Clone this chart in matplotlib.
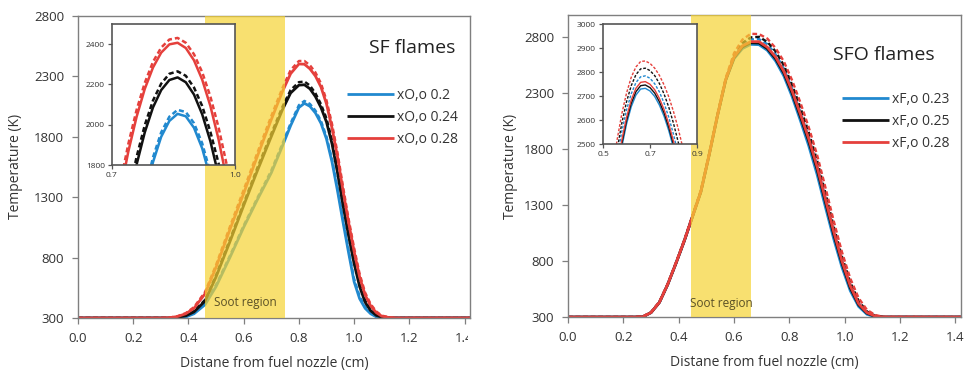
import matplotlib.pyplot as plt
from matplotlib.transforms import Bbox

plt.rcParams['font.family'] = ['Open Sans', 'DejaVu Sans']

# ---------------- SF flames (oxygen side) ----------------
sf_x = [0.0, 0.30, 0.33, 0.36, 0.39, 0.42, 0.46, 0.50, 0.55, 0.60, 0.65, 0.70, 0.74, 0.77,
        0.80, 0.82, 0.84, 0.86, 0.88, 0.90, 0.92, 0.94, 0.96, 0.98, 1.00, 1.02, 1.04, 1.06,
        1.08, 1.10, 1.13, 1.16, 1.42]
sf_020 = [300, 300, 300, 300, 308, 335, 410, 560, 800, 1050, 1280, 1500, 1720, 1890,
          2040, 2075, 2050, 1995, 1910, 1780, 1590, 1350, 1090, 840, 600, 460, 380, 335,
          310, 302, 300, 300, 300]
sf_020_d = [300, 300, 300, 300, 310, 340, 420, 575, 815, 1065, 1295, 1520, 1740, 1910,
            2060, 2095, 2070, 2015, 1930, 1800, 1612, 1372, 1112, 860, 625, 480, 392, 342,
            314, 303, 300, 300, 300]
sf_024 = [300, 300, 300, 305, 318, 350, 440, 640, 930, 1230, 1520, 1800, 2020, 2160,
          2225, 2228, 2195, 2130, 2040, 1920, 1740, 1500, 1230, 980, 750, 560, 430, 360,
          322, 306, 300, 300, 300]
sf_024_d = [300, 300, 300, 306, 320, 355, 450, 655, 950, 1250, 1545, 1825, 2045, 2185,
            2250, 2255, 2222, 2158, 2068, 1950, 1770, 1530, 1260, 1010, 775, 580, 445, 370,
            328, 308, 300, 300, 300]
sf_028 = [300, 300, 302, 312, 335, 380, 500, 720, 1030, 1330, 1640, 1940, 2170, 2320,
          2400, 2398, 2360, 2300, 2210, 2070, 1870, 1630, 1350, 1090, 850, 640, 490, 400,
          345, 315, 302, 300, 300]
sf_028_d = [300, 300, 303, 315, 340, 390, 515, 740, 1055, 1360, 1670, 1970, 2200, 2350,
            2425, 2425, 2390, 2330, 2240, 2100, 1905, 1665, 1385, 1120, 880, 665, 510, 415,
            355, 320, 305, 300, 300]
sf_labels = ['xO,o 0.2', 'xO,o 0.24', 'xO,o 0.28']
sf_soot = (0.46, 0.75)

# zoomed peak region of the SF flames
sf_in_x = [0.72, 0.74, 0.76, 0.78, 0.80, 0.82, 0.84, 0.86, 0.88, 0.90, 0.92, 0.94, 0.96,
           0.98, 1.00]
sf_in_020 = [857, 1164, 1427, 1643, 1814, 1940, 2019, 2054, 2042, 1985, 1883, 1734, 1541,
             1301, 1016]
sf_in_020_d = [900, 1200, 1460, 1670, 1838, 1962, 2040, 2074, 2063, 2008, 1908, 1762, 1572,
               1340, 1080]
sf_in_024 = [1372, 1605, 1802, 1962, 2086, 2172, 2222, 2235, 2211, 2150, 2052, 1918, 1747,
             1539, 1300]
sf_in_024_d = [1420, 1650, 1840, 1998, 2120, 2204, 2253, 2265, 2243, 2185, 2093, 1965, 1808,
               1610, 1380]
sf_in_028 = [1664, 1868, 2039, 2178, 2284, 2358, 2399, 2407, 2381, 2320, 2224, 2093, 1927,
             1726, 1490]
sf_in_028_d = [1707, 1906, 2073, 2208, 2312, 2383, 2423, 2431, 2407, 2350, 2261, 2140, 1986,
               1800, 1582]

# ---------------- SFO flames (fuel side) ----------------
sfo_x = [0.0, 0.24, 0.27, 0.30, 0.33, 0.36, 0.39, 0.42, 0.45, 0.48, 0.51, 0.54, 0.57, 0.60,
         0.63, 0.66, 0.69, 0.72, 0.75, 0.78, 0.81, 0.84, 0.87, 0.90, 0.93, 0.96, 0.99, 1.02,
         1.05, 1.08, 1.11, 1.14, 1.42]
sfo_023 = [300, 300, 302, 340, 430, 590, 780, 980, 1200, 1420, 1750, 2100, 2420, 2610,
           2700, 2738, 2735, 2685, 2590, 2455, 2270, 2055, 1830, 1575, 1285, 1000, 745, 535,
           395, 325, 302, 300, 300]
sfo_023_d = [300, 300, 302, 340, 430, 590, 780, 980, 1200, 1420, 1750, 2100, 2425, 2630,
             2735, 2782, 2785, 2740, 2650, 2520, 2340, 2130, 1905, 1655, 1365, 1070, 805, 585,
             425, 340, 308, 300, 300]
sfo_025 = [300, 300, 302, 340, 430, 590, 780, 980, 1200, 1420, 1750, 2100, 2420, 2620,
           2715, 2752, 2750, 2700, 2610, 2480, 2300, 2090, 1870, 1620, 1330, 1040, 780, 560,
           410, 335, 305, 300, 300]
sfo_025_d = [300, 300, 303, 342, 432, 592, 782, 982, 1205, 1425, 1755, 2105, 2430, 2640,
             2750, 2800, 2805, 2760, 2675, 2550, 2375, 2170, 1950, 1700, 1410, 1110, 840, 610,
             445, 350, 312, 300, 300]
sfo_028 = [300, 300, 302, 340, 430, 590, 780, 980, 1200, 1420, 1750, 2100, 2425, 2625,
           2725, 2762, 2762, 2713, 2625, 2497, 2320, 2112, 1893, 1645, 1355, 1065, 800, 578,
           420, 340, 308, 300, 300]
sfo_028_d = [300, 300, 305, 345, 438, 598, 790, 990, 1212, 1435, 1765, 2115, 2440, 2660,
             2780, 2832, 2830, 2790, 2705, 2585, 2415, 2215, 1995, 1750, 1460, 1160, 880, 645,
             470, 365, 318, 302, 300]
sfo_labels = ['xF,o 0.23', 'xF,o 0.25', 'xF,o 0.28']
sfo_soot = (0.445, 0.66)

# zoomed peak region of the SFO flames
sfo_in_x = [0.54, 0.56, 0.58, 0.60, 0.62, 0.64, 0.66, 0.68, 0.70, 0.72, 0.74, 0.76, 0.78,
            0.80, 0.82, 0.84]
sfo_in_023 = [2230, 2371, 2488, 2583, 2655, 2704, 2729, 2732, 2721, 2698, 2662, 2615, 2555,
              2483, 2399, 2303]
sfo_in_023_d = [2309, 2442, 2552, 2642, 2709, 2756, 2780, 2784, 2774, 2751, 2717, 2670, 2611,
                2540, 2457, 2361]
sfo_in_025 = [2244, 2385, 2502, 2597, 2669, 2718, 2743, 2746, 2735, 2712, 2676, 2629, 2569,
              2497, 2413, 2317]
sfo_in_025_d = [2343, 2476, 2587, 2676, 2743, 2789, 2813, 2816, 2806, 2785, 2752, 2708, 2653,
                2586, 2508, 2419]
sfo_in_028 = [2258, 2399, 2516, 2611, 2683, 2732, 2757, 2760, 2749, 2726, 2690, 2643, 2583,
              2511, 2427, 2331]
sfo_in_028_d = [2389, 2518, 2626, 2712, 2778, 2821, 2844, 2846, 2836, 2816, 2786, 2746, 2696,
                2635, 2564, 2483]

colors = ['#2189CF', '#111111', '#E5403C']
band = '#F6D333'
frame = '#7F7F7F'
txt = '#333333'
dash = (2.0, 1.2)

fig = plt.figure(figsize=(9.67, 3.73), dpi=100)


def main_panel(rect, x, curves, labels, soot, ylim, title, title_xy, leg_xy, ylab_x):
    ax = fig.add_axes(rect)
    handles = []
    for c, (solid, dashed) in zip(colors, curves):
        h, = ax.plot(x, solid, color=c, lw=2.0, solid_capstyle='butt', zorder=2)
        ax.plot(x, dashed, color=c, lw=1.7, dashes=dash, zorder=2)
        handles.append(h)
    # translucent band laid over the curves
    ax.axvspan(soot[0], soot[1], color=band, alpha=0.7, lw=0, zorder=3)
    ax.text((soot[0] + soot[1]) / 2, ylim[0] + 125, 'Soot region', ha='center',
            va='center', fontsize=8.5, color='#5A5026', zorder=4)
    ax.set_xlim(0, 1.42)
    ax.set_ylim(*ylim)
    ax.set_xticks([0.0, 0.2, 0.4, 0.6, 0.8, 1.0, 1.2, 1.4])
    ax.set_xticklabels(['0.0', '0.2', '0.4', '0.6', '0.8', '1.0', '1.2', '1.4'])
    ax.set_yticks([300, 800, 1300, 1800, 2300, 2800])
    ax.tick_params(direction='out', length=4, width=0.9, color=frame, labelsize=9.5,
                   labelcolor=txt, pad=6)
    for s in ax.spines.values():
        s.set_color(frame)
        s.set_linewidth(1.0)
    ax.set_xlabel('Distane from fuel nozzle (cm)', fontsize=10, color=txt)
    ax.set_ylabel('Temperature (K)', fontsize=10, color=txt)
    ax.xaxis.set_label_coords(0.5, -0.125)
    ax.yaxis.set_label_coords(ylab_x, 0.5)
    ax.text(title_xy[0], title_xy[1], title, transform=ax.transAxes, fontsize=14,
            color='#222222', va='center', ha='left')
    ax.legend(handles, labels, loc='upper left', bbox_to_anchor=leg_xy, frameon=False,
              fontsize=10, handlelength=3.4, handletextpad=0.2, borderpad=0,
              borderaxespad=0, labelspacing=0.5, labelcolor=txt)
    return ax


def inset(rect, x, curves, xlim, ylim, xticks, yticks, xtl, lw):
    ax = fig.add_axes(rect)
    ax.set_facecolor('white')
    for c, (solid, dashed) in zip(colors, curves):
        ax.plot(x, solid, color=c, lw=lw)
        ax.plot(x, dashed, color=c, lw=lw, dashes=dash)
    ax.set_xlim(*xlim)
    ax.set_ylim(*ylim)
    ax.set_xticks(xticks)
    ax.set_xticklabels(xtl)
    ax.set_yticks(yticks)
    ax.tick_params(direction='out', length=3, width=0.9, color='#555555', labelsize=6,
                   labelcolor=txt, pad=2)
    for s in ax.spines.values():
        s.set_color('#555555')
        s.set_linewidth(1.2)
    return ax


ax1 = main_panel([0.0807, 0.1475, 0.4054, 0.8107], sf_x,
                 [(sf_020, sf_020_d), (sf_024, sf_024_d), (sf_028, sf_028_d)],
                 sf_labels, sf_soot, (300, 2800), 'SF flames', (0.742, 0.893),
                 (0.686, 0.761), -0.14)
ax2 = main_panel([0.5874, 0.150, 0.4064, 0.8097], sfo_x,
                 [(sfo_023, sfo_023_d), (sfo_025, sfo_025_d), (sfo_028, sfo_028_d)],
                 sfo_labels, sfo_soot, (300, 3000), 'SFO flames', (0.674, 0.868),
                 (0.697, 0.745), -0.128)

inset([0.1158, 0.5576, 0.1272, 0.378], sf_in_x,
      [(sf_in_020, sf_in_020_d), (sf_in_024, sf_in_024_d), (sf_in_028, sf_in_028_d)],
      (0.7, 1.0), (1800, 2500), [0.7, 1.0], [1800, 2000, 2200, 2400], ['0.7', '1.0'], 1.8)
inset([0.6236, 0.6139, 0.0972, 0.3217], sfo_in_x,
      [(sfo_in_023, sfo_in_023_d), (sfo_in_025, sfo_in_025_d), (sfo_in_028, sfo_in_028_d)],
      (0.5, 0.9), (2500, 3000), [0.5, 0.7, 0.9], [2500, 2600, 2700, 2800, 2900, 3000],
      ['0.5', '0.7', '0.9'], 1.0)

# left panel's last tick label runs into the gap between panels
for lbl in ax1.get_xticklabels():
    lbl.set_clip_on(True)
    lbl.set_clip_box(Bbox.from_extents(0, 0, 468, 373))

fig.savefig('out.png', dpi=100)
